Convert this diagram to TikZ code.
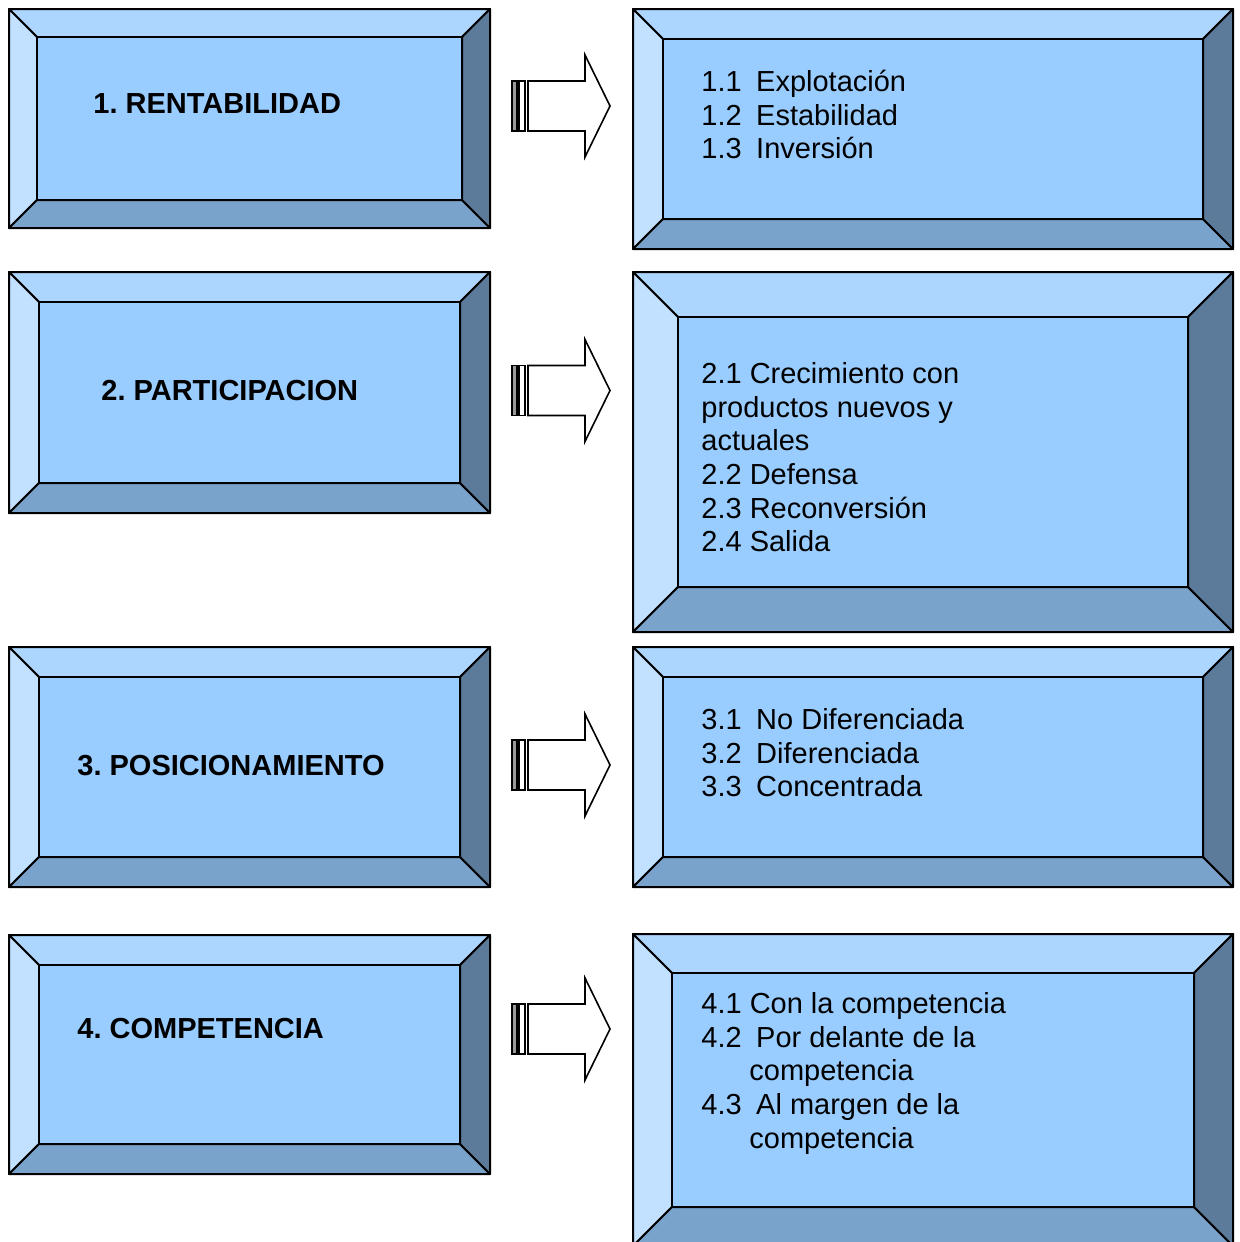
\documentclass[tikz,border=0pt]{standalone}
\usepackage{fontspec}
\setmainfont{Liberation Sans}
\usetikzlibrary{positioning}
\definecolor{facefill}{HTML}{99CCFF}
\definecolor{bveltop}{HTML}{ADD6FF}
\definecolor{bvelleft}{HTML}{C2E0FF}
\definecolor{bvelbottom}{HTML}{7AA3CC}
\definecolor{bvelright}{HTML}{5C7A99}
\frenchspacing

\tikzset{
  bevelline/.style={draw=black, line width=1pt, line join=round},
  pics/bevelbox/.style n args={3}{code={
    \filldraw[bevelline, fill=bveltop] (0,0) -- (#1,0) -- (#1-#3,#3) -- (#3,#3) -- cycle;
    \filldraw[bevelline, fill=bvelleft] (0,0) -- (#3,#3) -- (#3,#2-#3) -- (0,#2) -- cycle;
    \filldraw[bevelline, fill=bvelbottom] (0,#2) -- (#3,#2-#3) -- (#1-#3,#2-#3) -- (#1,#2) -- cycle;
    \filldraw[bevelline, fill=bvelright] (#1,0) -- (#1,#2) -- (#1-#3,#2-#3) -- (#1-#3,#3) -- cycle;
    \filldraw[bevelline, fill=facefill] (#3,#3) rectangle (#1-#3,#2-#3);
  }},
  pics/bararrow/.style={code={
    \filldraw[draw=black, line width=0.8pt, fill=gray!80] (0,-25) rectangle (5,25);
    \filldraw[draw=black, line width=0.8pt, fill=white] (7,-25) rectangle (13,25);
    \filldraw[draw=black, line width=0.8pt, fill=white, line join=miter] (16,-25) -- (73,-25) -- (73,-51) -- (98,0) -- (73,51) -- (73,25) -- (16,25) -- cycle;
  }},
  goal/.style={font=\fontsize{14.5}{16.85}\selectfont\bfseries, inner sep=0pt, anchor=base west},
  means/.style={font=\fontsize{14.5}{16.85}\selectfont, inner sep=0pt, anchor=north west, align=left},
}

\begin{document}
\begin{tikzpicture}[x=0.5pt, y=-0.5pt]
    \useasboundingbox (0,0) rectangle (1240,1242);

    \pic (rent) at (9,9) {bevelbox={481}{219}{28}};
    \pic (rentsub) at (633,9) {bevelbox={600}{240}{30}};
    \pic (part) at (9,272) {bevelbox={481}{241}{30}};
    \pic (partsub) at (633,272) {bevelbox={600}{360}{45}};
    \pic (posi) at (9,647) {bevelbox={481}{240}{30}};
    \pic (posisub) at (633,647) {bevelbox={600}{240}{30}};
    \pic (comp) at (9,935) {bevelbox={481}{239}{30}};
    \pic (compsub) at (633,934) {bevelbox={600}{312}{39}};

    \pic (rentarrow) at (512,106) {bararrow};
    \pic (partarrow) at (512,390.5) {bararrow};
    \pic (posiarrow) at (512,765) {bararrow};
    \pic (comparrow) at (512,1029) {bararrow};

    \node[goal] (rentlabel) at (93,113) {1. RENTABILIDAD};
    \node[goal] (partlabel) at (101,400) {2. PARTICIPACION};
    \node[goal] (posilabel) at (77,775) {3. POSICIONAMIENTO};
    \node[goal] (complabel) at (77,1038) {4. COMPETENCIA};

    \node[means] (rentlist) at (701,61) {\rule{0pt}{15pt}1.1\enspace Explotación\\1.2\enspace Estabilidad\\1.3\enspace Inversión};
    \node[means] (partlist) at (701,353) {\rule{0pt}{15pt}2.1 Crecimiento con\\productos nuevos y\\actuales\\2.2 Defensa\\2.3 Reconversión\\2.4 Salida};
    \node[means] (posilist) at (701,699) {\rule{0pt}{15pt}3.1\enspace No Diferenciada\\3.2\enspace Diferenciada\\3.3\enspace Concentrada};
    \node[means] (complist) at (701,983) {\rule{0pt}{15pt}4.1 Con la competencia\\4.2\enspace Por delante de la\\\hspace*{24pt}competencia\\4.3\enspace Al margen de la\\\hspace*{24pt}competencia};
\end{tikzpicture}
\end{document}
